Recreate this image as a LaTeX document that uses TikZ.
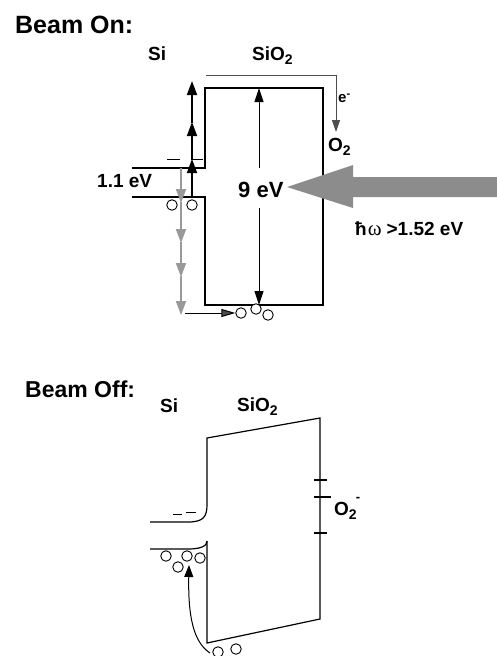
\documentclass[tikz,border=0pt]{standalone}
\usepackage{fontspec}
\setmainfont{Liberation Sans}
\newfontfamily\omegafont{Liberation Serif}
\usetikzlibrary{arrows.meta}
\definecolor{beam}{gray}{0.55}
\definecolor{lgray}{gray}{0.6}
\definecolor{dgray}{gray}{0.3}
\newcommand\fs[1]{\fontsize{#1}{#1}\selectfont\bfseries}
\newcommand\lowtwo[1]{\raisebox{-4pt}{\fs{#1}2}}
\begin{document}
\begin{tikzpicture}[x=1pt,y=-1pt,
  band/.style={line width=1.2pt, line join=miter},
  lbl/.style={inner sep=0pt, anchor=base west},
  hole/.style={circle, draw, fill=white, line width=0.9pt, minimum size=10.5pt, inner sep=0pt},
  upblk/.style={line width=1.8pt, -{Triangle[length=14pt,width=10pt]}},
  dngr/.style={draw=lgray, line width=1.8pt, -{Triangle[length=14pt,width=10pt]}, lgray},
  thinarr/.style={line width=1pt, -{Triangle[length=14pt,width=9pt]}}
]
\useasboundingbox (0,0) rectangle (497,656);

% ---------------- Beam On ----------------
\node[lbl] (titleOn) at (15,33) {\fs{25}Beam On:};
\node[lbl] (siOn) at (148,60) {\fs{19}Si};
\node[lbl] (sio2On) at (252,60) {\fs{19}SiO\lowtwo{14}};

\draw[band] (132,168) -- (205,168) -- (205,88) -- (323,88) -- (323,305) -- (205,305) -- (205,197) -- (132,197);

% electron path to O2
\coordinate (eStart) at (206,75);
\coordinate (eCorner) at (336,75);
\coordinate (eEnd) at (336,132);
\draw[dgray, line width=1pt, -{Triangle[length=12pt,width=8pt]}] (eStart) -- (eCorner) -- (eEnd);
\node[lbl] (eOn) at (338,102) {\fs{15}e\raisebox{5pt}{\fs{11}-}};
\node[lbl] (o2On) at (328,151) {\fs{19}O\lowtwo{14}};

% excited electrons (black, upward)
\coordinate (b0) at (192,197);
\coordinate (b1) at (192,159);
\coordinate (b2) at (192,122);
\coordinate (b3) at (192,81);
\draw[upblk] (b0) -- (b1);
\draw[upblk] ([yshift=-1pt]b1) -- (b2);
\draw[upblk] ([yshift=-1pt]b2) -- (b3);

% holes (gray, downward)
\coordinate (g0) at (181,168);
\coordinate (g1) at (181,203);
\coordinate (g2) at (181,243);
\coordinate (g3) at (181,277);
\coordinate (g4) at (181,315);
\draw[dngr] (g0) -- (g1);
\draw[dngr] ([yshift=1pt]g1) -- (g2);
\draw[dngr] ([yshift=1pt]g2) -- (g3);
\draw[dngr] ([yshift=1pt]g3) -- (g4);

% electrons in conduction band
\draw[line width=1pt] (167,159) -- (180,159);
\draw[line width=1pt] (193,159) -- (203,159);

% holes in valence band
\node[hole] (h1) at (172,205) {};
\node[hole] (h2) at (192,205) {};

% holes at bottom
\node[hole] (h3) at (241,313) {};
\node[hole] (h4) at (256,309) {};
\node[hole] (h5) at (268,315) {};
\coordinate (hs) at (185,313);
\draw[line width=1pt, -{Triangle[length=14pt,width=8pt,fill=dgray]}] (hs) -- (h3.west);

\node[lbl] (gapOn) at (97,187) {\fs{19}1.1 eV};

% 9 eV
\node[lbl] (nine) at (238,197) {\fs{22}9 eV};
\coordinate (nTop) at (259,88);
\coordinate (nUp) at (259,168);
\coordinate (nDn) at (259,208);
\coordinate (nBot) at (259,305);
\draw[thinarr] (nUp) -- (nTop);
\draw[thinarr] (nDn) -- (nBot);

% photon beam
\fill[beam] (497,177) -- (353,177) -- (353,165) -- (287,187) -- (353,208) -- (353,197) -- (497,197) -- cycle;
\node[lbl] (hw) at (355,235) {\fs{19}ħ\hspace{1pt}{\omegafont\mdseries\fontsize{21}{21}\selectfont ω}\hspace{5pt}>1.52 eV};

% ---------------- Beam Off ----------------
\node[lbl] (titleOff) at (25,397) {\fs{23}Beam Off:};
\node[lbl] (siOff) at (160,412) {\fs{19}Si};
\node[lbl] (sio2Off) at (237,411) {\fs{19}SiO\lowtwo{14}};

\draw[band] (150,522) -- (188,522) .. controls (203,522) and (207,517) .. (207,505) -- (207,438) -- (320,418) -- (320,619) -- (207,643) -- (207,541);
\draw[band] (150,549) -- (188,549) .. controls (201,549) and (207,546) .. (207,541);

\draw[line width=1.2pt] (314,480) -- (327,480);
\draw[line width=1.2pt] (314,497) -- (331,497);
\draw[line width=1.2pt] (314,533) -- (327,533);
\node[lbl] (o2Off) at (334,515) {\fs{19}O\rlap{\hspace{7pt}\raisebox{14pt}{\fs{13}-}}\lowtwo{14}};

\draw[line width=1pt] (173,514) -- (182,514);
\draw[line width=1pt] (186,512) -- (196,512);

\node[hole] (k1) at (166,556) {};
\node[hole] (k2) at (187,556) {};
\node[hole] (k3) at (200,558) {};
\node[hole] (k4) at (178,567) {};

\node[hole] (k5) at (218,652) {};
\node[hole] (k6) at (236,649) {};
\coordinate (cStart) at (210,653);
\coordinate (cEnd) at (189,565);
\draw[line width=1pt, -{Triangle[length=12pt,width=9pt]}] (cStart) .. controls (193,642) and (188,615) .. (cEnd);
\end{tikzpicture}
\end{document}
